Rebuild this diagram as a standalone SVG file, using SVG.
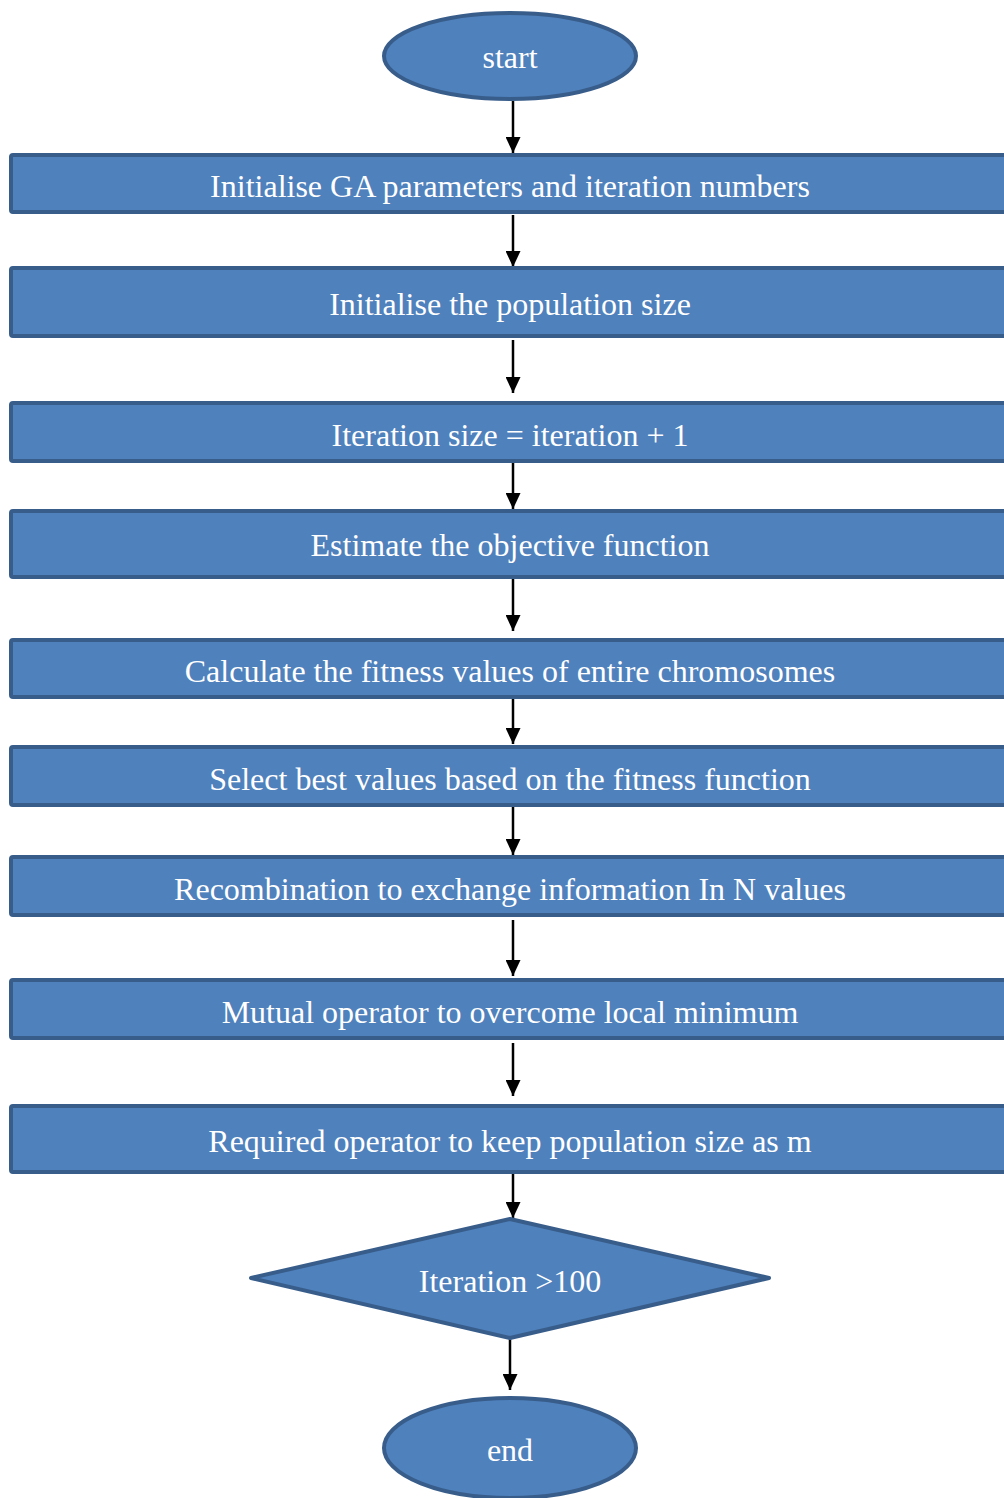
<svg xmlns="http://www.w3.org/2000/svg" width="1004" height="1498" viewBox="0 0 1004 1498">
<defs>
<marker id="ah" markerWidth="16" markerHeight="15" refX="16" refY="7.5" orient="auto" markerUnits="userSpaceOnUse" viewBox="0 0 16 15">
<path d="M0,0 L16,7.5 L0,15 Z" fill="#000"/>
</marker>
<style>
.n{fill:#4f81bd;stroke:#385d8a;stroke-width:4}
.t{fill:#fff;font-family:"Liberation Serif","Times New Roman",serif;font-size:32px;text-anchor:middle;dominant-baseline:central}
.c{stroke:#000;stroke-width:2.5;fill:none;marker-end:url(#ah)}
</style>
</defs>
<rect width="1004" height="1498" fill="#fff"/>
<g id="connectors">
<line class="c" x1="513" y1="101" x2="513" y2="153"/>
<line class="c" x1="513" y1="215" x2="513" y2="267"/>
<line class="c" x1="513" y1="340" x2="513" y2="393"/>
<line class="c" x1="513" y1="457" x2="513" y2="509"/>
<line class="c" x1="513" y1="579" x2="513" y2="631"/>
<line class="c" x1="513" y1="690" x2="513" y2="744"/>
<line class="c" x1="513" y1="805" x2="513" y2="855"/>
<line class="c" x1="513" y1="920" x2="513" y2="976"/>
<line class="c" x1="513" y1="1043" x2="513" y2="1096"/>
<line class="c" x1="513" y1="1170" x2="513" y2="1218"/>
<line class="c" x1="510" y1="1338" x2="510" y2="1390"/>
</g>
<g id="start"><ellipse class="n" cx="510" cy="56" rx="126" ry="43"/><text class="t" x="510" y="57">start</text></g>
<g id="n1"><rect class="n" x="11" y="155" width="1010" height="57" rx="2"/><text class="t" x="510" y="186">Initialise GA parameters and iteration numbers</text></g>
<g id="n2"><rect class="n" x="11" y="268" width="1010" height="68" rx="2"/><text class="t" x="510" y="304">Initialise the population size</text></g>
<g id="n3"><rect class="n" x="11" y="403" width="1010" height="58" rx="2"/><text class="t" x="510" y="435">Iteration size = iteration + 1</text></g>
<g id="n4"><rect class="n" x="11" y="511" width="1010" height="66" rx="2"/><text class="t" x="510" y="545">Estimate the objective function</text></g>
<g id="n5"><rect class="n" x="11" y="640" width="1010" height="57" rx="2"/><text class="t" x="510" y="671">Calculate the fitness values of entire chromosomes</text></g>
<g id="n6"><rect class="n" x="11" y="747" width="1010" height="58" rx="2"/><text class="t" x="510" y="779">Select best values based on the fitness function</text></g>
<g id="n7"><rect class="n" x="11" y="857" width="1010" height="58" rx="2"/><text class="t" x="510" y="889">Recombination to exchange information In N values</text></g>
<g id="n8"><rect class="n" x="11" y="980" width="1010" height="58" rx="2"/><text class="t" x="510" y="1012">Mutual operator to overcome local minimum</text></g>
<g id="n9"><rect class="n" x="11" y="1106" width="1010" height="66" rx="2"/><text class="t" x="510" y="1141">Required operator to keep population size as m</text></g>
<g id="decision"><polygon class="n" points="510,1219 769,1278 510,1338 251,1278" stroke-linejoin="round"/><text class="t" x="510" y="1281">Iteration &gt;100</text></g>
<g id="end"><ellipse class="n" cx="510" cy="1448" rx="126" ry="50"/><text class="t" x="510" y="1450">end</text></g>
</svg>
